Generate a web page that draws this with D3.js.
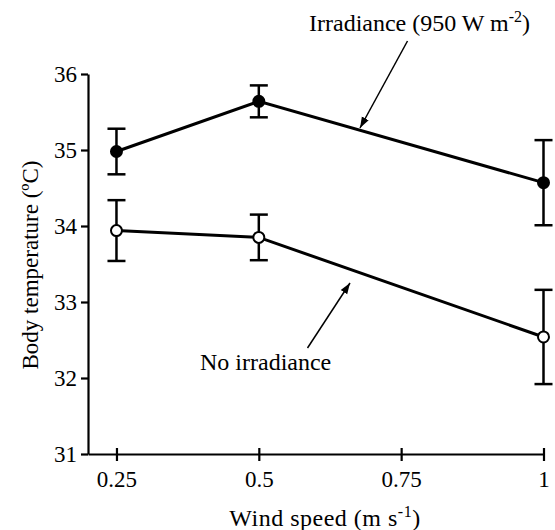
<!DOCTYPE html>
<html>
<head>
<meta charset="utf-8">
<script src="https://cdn.jsdelivr.net/npm/d3@7"></script>
<style>
	body { margin: 0; background: #fff; }
</style>
</head>
<body>
<script>
const width = 555,
	  height = 530;

const serif = "'Liberation Serif'";

// wind speed categories
const windSpeed = [0.25, 0.5, 1];
// irradiance (950 W m-2)
const irrMean = [34.98, 35.64, 34.57];
const irrErr  = [0.30, 0.21, 0.56];
// no irradiance
const noIrrMean = [33.94, 33.85, 32.54];
const noIrrErr  = [0.40, 0.30, 0.62];

const xTicks = [0.25, 0.5, 0.75, 1];
const yTicks = [31, 32, 33, 34, 35, 36];

var svg = d3.select("body").append("svg")
	.attr("width", width)
	.attr("height", height)

var x = d3.scaleLinear().domain([0.2, 1]).range([88, 543.5]);
var y = d3.scaleLinear().domain([31, 36]).range([454, 74]);

// axes
var yAxis = svg.append("g")
	.attr("transform", "translate(88,0)")
	.call(d3.axisLeft(y).tickValues(yTicks).tickSize(7).tickSizeOuter(0).tickFormat(d3.format("d")))
yAxis.attr("font-family", null).attr("font-size", null)
yAxis.select(".domain").attr("stroke-width", 2.2)
yAxis.selectAll(".tick line").attr("stroke-width", 2.2)
yAxis.selectAll(".tick text")
	.attr("x", -11)
	.attr("dy", "0.34em")
	.style("font-family", serif)
	.style("font-size", "23px")

var xAxis = svg.append("g")
	.attr("transform", "translate(0,454)")
	.call(d3.axisBottom(x).tickValues(xTicks).tickSize(7).tickSizeOuter(0).tickFormat(d => d))
xAxis.attr("font-family", null).attr("font-size", null)
xAxis.select(".domain").attr("stroke-width", 2.2)
xAxis.selectAll(".tick line").attr("y1", -6).attr("stroke-width", 2.2)
xAxis.selectAll(".tick text")
	.attr("y", 33)
	.attr("dy", 0)
	.style("font-family", serif)
	.style("font-size", "23px")

// axis titles
var xt = svg.append("text")
	.attr("x", 325)
	.attr("y", 526)
	.attr("text-anchor", "middle")
	.style("font-family", serif)
	.style("font-size", "24px")
	.style("letter-spacing", "0.5px")
xt.append("tspan").text("Wind speed (m s")
xt.append("tspan").attr("dy", -9).style("font-size", "16px").text("-1")
xt.append("tspan").attr("dy", 9).text(")")

svg.append("text")
	.attr("transform", "translate(38,265) rotate(-90)")
	.attr("text-anchor", "middle")
	.style("font-family", serif)
	.style("font-size", "23px")
	.text("Body temperature (\u00baC)")

// series
var series = [
	{ mean: irrMean, err: irrErr, fill: "#000" },
	{ mean: noIrrMean, err: noIrrErr, fill: "#fff" }
]

var line = d3.line()
	.x(d => x(d.x))
	.y(d => y(d.y))

series.forEach(function (s) {
	var pts = windSpeed.map((w, i) => ({ x: w, y: s.mean[i], e: s.err[i] }))

	svg.append("path")
		.datum(pts)
		.attr("d", line)
		.attr("fill", "none")
		.attr("stroke", "#000")
		.attr("stroke-width", 3)

	var eb = svg.selectAll(null)
		.data(pts)
		.enter().append("g")
		.attr("stroke", "#000")
		.attr("stroke-width", 2.5)
	eb.append("line")
		.attr("x1", d => x(d.x)).attr("x2", d => x(d.x))
		.attr("y1", d => y(d.y + d.e)).attr("y2", d => y(d.y - d.e))
	eb.append("line")
		.attr("x1", d => x(d.x) - 9).attr("x2", d => x(d.x) + 9)
		.attr("y1", d => y(d.y + d.e)).attr("y2", d => y(d.y + d.e))
	eb.append("line")
		.attr("x1", d => x(d.x) - 9).attr("x2", d => x(d.x) + 9)
		.attr("y1", d => y(d.y - d.e)).attr("y2", d => y(d.y - d.e))

	svg.selectAll(null)
		.data(pts)
		.enter().append("circle")
		.attr("cx", d => x(d.x))
		.attr("cy", d => y(d.y))
		.attr("r", 5.5)
		.attr("fill", s.fill)
		.attr("stroke", "#000")
		.attr("stroke-width", 2)
})

// annotations
svg.append("defs").append("marker")
	.attr("id", "arrow")
	.attr("viewBox", "0 0 10 10")
	.attr("refX", 10)
	.attr("refY", 5)
	.attr("markerWidth", 11)
	.attr("markerHeight", 11)
	.attr("markerUnits", "userSpaceOnUse")
	.attr("orient", "auto")
	.append("path")
	.attr("d", "M0,1.5 L10,5 L0,8.5 Z")
	.attr("fill", "#000")

var t1 = svg.append("text")
	.attr("x", 309)
	.attr("y", 31)
	.style("font-family", serif)
	.style("font-size", "24px")
t1.append("tspan").text("Irradiance (950 W m")
t1.append("tspan").attr("dy", -9).style("font-size", "16px").text("-2")
t1.append("tspan").attr("dy", 9).text(")")

svg.append("line")
	.attr("x1", 407.5).attr("y1", 41)
	.attr("x2", 360).attr("y2", 128)
	.attr("stroke", "#000")
	.attr("stroke-width", 1.5)
	.attr("marker-end", "url(#arrow)")

svg.append("text")
	.attr("x", 200)
	.attr("y", 370)
	.style("font-family", serif)
	.style("font-size", "24px")
	.text("No irradiance")

svg.append("line")
	.attr("x1", 307.5).attr("y1", 348)
	.attr("x2", 350).attr("y2", 283)
	.attr("stroke", "#000")
	.attr("stroke-width", 1.5)
	.attr("marker-end", "url(#arrow)")
</script>
</body>
</html>
